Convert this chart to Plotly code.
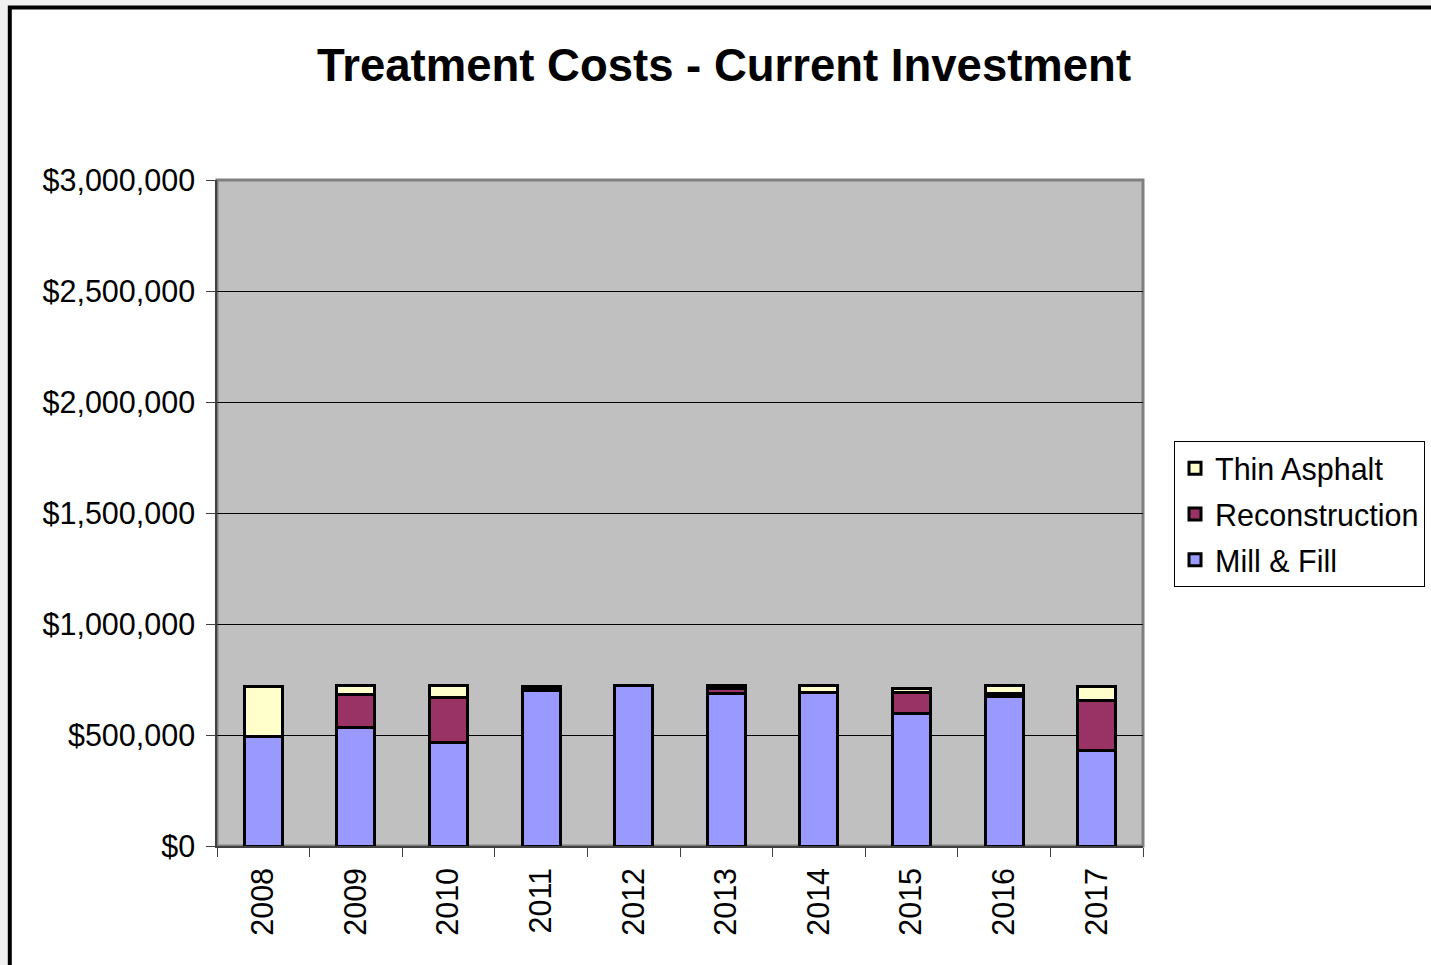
import plotly.graph_objects as go

years = ["2008", "2009", "2010", "2011", "2012", "2013", "2014", "2015", "2016", "2017"]
mill_fill = [495000, 535000, 468000, 700000, 722000, 688000, 690000, 598000, 672000, 428000]
reconstruction = [0, 148000, 203000, 10000, 0, 20000, 0, 92000, 15000, 226000]
thin_asphalt = [225000, 39000, 51000, 7000, 0, 15000, 35000, 20000, 35000, 63000]

series = [
    ("Mill & Fill", mill_fill, "#9999FF", 3),
    ("Reconstruction", reconstruction, "#993366", 2),
    ("Thin Asphalt", thin_asphalt, "#FFFFCC", 1),
]

fig = go.Figure()
for name, vals, color, rank in series:
    fig.add_trace(go.Bar(
        x=years, y=vals, name=name, legendgroup=name, legendrank=rank,
        marker=dict(color=color, line=dict(color="black", width=3)),
        width=0.41,
    ))

W, H = 1431, 965
L, R, T, B = 217, 288, 180, 119
pw, ph = W - L - R, H - T - B

def px(xp):
    return (xp - L) / pw

def py(yp):
    return (H - B - yp) / ph

shapes = [
    dict(type="rect", xref="paper", yref="paper", x0=px(-5), x1=px(8), y0=py(H + 5), y1=py(-5),
         fillcolor="#F0F0F0", line=dict(width=0), layer="above"),
    dict(type="rect", xref="paper", yref="paper", x0=px(-5), x1=px(W + 5), y0=py(6), y1=py(-5),
         fillcolor="#F0F0F0", line=dict(width=0), layer="above"),
    dict(type="rect", xref="paper", yref="paper", x0=px(9.8), x1=px(W + 20), y0=py(H + 20), y1=py(7.5),
         line=dict(color="black", width=4), layer="above"),
    dict(type="rect", xref="paper", yref="paper", x0=0, x1=1, y0=0, y1=1,
         line=dict(color="#808080", width=3), layer="below"),
]

fig.update_layout(
    width=W, height=H,
    margin=dict(l=L, r=R, t=T, b=B, autoexpand=False),
    paper_bgcolor="white",
    plot_bgcolor="#C0C0C0",
    barmode="stack",
    bargap=0.59,
    font=dict(family="Liberation Sans, Arial, sans-serif", color="black", size=30.5),
    title=dict(text="<b>Treatment Costs - Current Investment</b>", x=px(724), xref="paper",
               y=1 - 65 / H, yanchor="middle", xanchor="center",
               font=dict(size=45.5, family="Liberation Sans, Arial, sans-serif", color="black")),
    legend=dict(x=px(1174), y=py(441), xanchor="left", yanchor="top",
                bordercolor="black", borderwidth=1, bgcolor="white",
                traceorder="grouped", tracegroupgap=3,
                font=dict(size=30.5)),
    shapes=shapes,
    xaxis=dict(type="category", tickangle=-90, ticks="outside", ticklen=9, tickcolor="#404040",
               tickson="boundaries", showline=True, linecolor="#404040", linewidth=1.5,
               showgrid=False, ticklabelstandoff=8, range=[-0.5, 9.5], automargin=False),
    yaxis=dict(range=[0, 3000000], dtick=500000, tickprefix="$", tickformat=",.0f",
               ticks="outside", ticklen=9, tickcolor="#404040",
               showline=True, linecolor="#404040", linewidth=1.5,
               showgrid=True, gridcolor="black", gridwidth=1, zeroline=False,
               ticklabelstandoff=5, automargin=False),
)

fig.write_html("out.html")
